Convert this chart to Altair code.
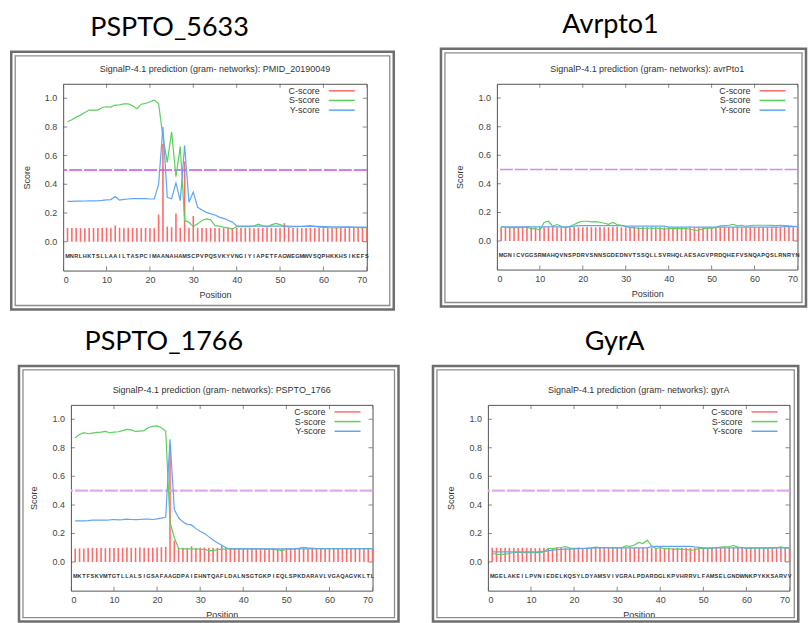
import altair as alt
import pandas as pd

positions = list(range(1, 71))
series_names = ["C-score", "S-score", "Y-score"]
series_colors = ["#ff6b6b", "#5ccf5c", "#5ea6f4"]
x_tick_values = [0, 10, 20, 30, 40, 50, 60, 70]
y_tick_values = [0.0, 0.2, 0.4, 0.6, 0.8, 1.0]
cutoff = 0.5
sequence_row = -0.1

panel_titles = ["PSPTO_5633", "Avrpto1", "PSPTO_1766", "GyrA"]
signalp_names = ["PMID_20190049", "avrPto1", "PSPTO_1766", "gyrA"]

seq_1 = "MNRLHKTSLLAAILTASPCIMAANAHAMSCPVPQSVKYVNGIYIAPETFAGWEGMWVSQPHKKHSIKEFS"
seq_2 = "MGNICVGGSRMAHQVNSPDRVSNNSGDEDNVTSSQLLSVRHQLAESAGVPRDQHEFVSNQAPQSLRNRYN"
seq_3 = "MKTFSKVMTGTLLALSIGSAFAAGDPAIEHNTQAFLDALNSGTGKPIEQLSPKDARAVLVGAQAGVKLTL"
seq_4 = "MGELAKEILPVNIEDELKQSYLDYAMSVIVGRALPDARDGLKPVHRRVLFAMSELGNDWNKPYKKSARVV"

# ---- PSPTO_5633 ----
c_1 = [0.097, 0.097, 0.097, 0.095, 0.095, 0.097, 0.097, 0.097, 0.098, 0.100,
       0.097, 0.113, 0.097, 0.095, 0.097, 0.097, 0.097, 0.095, 0.097, 0.095,
       0.095, 0.190, 0.680, 0.105, 0.102, 0.197, 0.098, 0.560, 0.098, 0.180,
       0.097, 0.097, 0.095, 0.097, 0.097, 0.097, 0.095, 0.097, 0.097, 0.097,
       0.097, 0.097, 0.097, 0.095, 0.097, 0.097, 0.097, 0.097, 0.095, 0.097,
       0.130, 0.097, 0.097, 0.097, 0.095, 0.097, 0.097, 0.097, 0.097, 0.095,
       0.097, 0.097, 0.097, 0.097, 0.095, 0.097, 0.097, 0.097, 0.097, 0.097]
s_1 = [0.836, 0.850, 0.868, 0.882, 0.900, 0.917, 0.917, 0.917, 0.935, 0.940,
       0.938, 0.952, 0.953, 0.960, 0.960, 0.947, 0.926, 0.958, 0.963, 0.975,
       0.986, 0.963, 0.730, 0.553, 0.766, 0.454, 0.664, 0.148, 0.137, 0.106,
       0.125, 0.148, 0.160, 0.153, 0.113, 0.109, 0.102, 0.097, 0.088, 0.106,
       0.106, 0.106, 0.106, 0.110, 0.123, 0.112, 0.103, 0.118, 0.128, 0.120,
       0.110, 0.102, 0.106, 0.106, 0.107, 0.109, 0.112, 0.108, 0.102, 0.100,
       0.098, 0.098, 0.097, 0.098, 0.100, 0.100, 0.100, 0.099, 0.099, 0.099]
y_1 = [0.282, 0.282, 0.283, 0.283, 0.284, 0.285, 0.285, 0.286, 0.288, 0.292,
       0.294, 0.315, 0.290, 0.296, 0.298, 0.300, 0.300, 0.300, 0.300, 0.298,
       0.298, 0.400, 0.800, 0.310, 0.300, 0.410, 0.287, 0.670, 0.275, 0.347,
       0.240, 0.222, 0.205, 0.195, 0.187, 0.172, 0.163, 0.150, 0.137, 0.111,
       0.109, 0.109, 0.109, 0.109, 0.109, 0.109, 0.109, 0.109, 0.109, 0.109,
       0.109, 0.109, 0.108, 0.108, 0.108, 0.108, 0.107, 0.107, 0.107, 0.106,
       0.106, 0.105, 0.105, 0.104, 0.104, 0.104, 0.103, 0.103, 0.103, 0.103]

# ---- Avrpto1 ----
c_2 = [0.098, 0.097, 0.096, 0.096, 0.097, 0.096, 0.097, 0.096, 0.096, 0.097,
       0.096, 0.097, 0.096, 0.096, 0.097, 0.096, 0.096, 0.097, 0.096, 0.096,
       0.097, 0.096, 0.096, 0.097, 0.096, 0.096, 0.097, 0.100, 0.096, 0.096,
       0.097, 0.096, 0.096, 0.097, 0.096, 0.096, 0.097, 0.096, 0.096, 0.097,
       0.096, 0.097, 0.096, 0.096, 0.097, 0.096, 0.096, 0.097, 0.096, 0.096,
       0.097, 0.096, 0.096, 0.097, 0.096, 0.096, 0.097, 0.096, 0.096, 0.097,
       0.096, 0.097, 0.096, 0.096, 0.097, 0.096, 0.096, 0.097, 0.096, 0.096]
s_2 = [0.103, 0.096, 0.094, 0.094, 0.094, 0.095, 0.100, 0.085, 0.087, 0.075,
       0.130, 0.138, 0.103, 0.115, 0.103, 0.092, 0.103, 0.115, 0.130, 0.138,
       0.138, 0.134, 0.135, 0.131, 0.124, 0.117, 0.130, 0.115, 0.110, 0.100,
       0.094, 0.094, 0.087, 0.089, 0.089, 0.090, 0.089, 0.088, 0.082, 0.087,
       0.087, 0.086, 0.087, 0.086, 0.082, 0.075, 0.076, 0.085, 0.092, 0.088,
       0.096, 0.106, 0.108, 0.110, 0.117, 0.106, 0.110, 0.103, 0.108, 0.110,
       0.110, 0.110, 0.110, 0.109, 0.108, 0.110, 0.108, 0.106, 0.103, 0.103]
y_2 = [0.098, 0.098, 0.098, 0.098, 0.098, 0.098, 0.098, 0.098, 0.098, 0.098,
       0.098, 0.098, 0.098, 0.098, 0.098, 0.098, 0.100, 0.104, 0.108, 0.108,
       0.108, 0.108, 0.108, 0.108, 0.108, 0.108, 0.108, 0.108, 0.108, 0.104,
       0.104, 0.104, 0.104, 0.104, 0.104, 0.104, 0.104, 0.104, 0.104, 0.097,
       0.097, 0.097, 0.097, 0.097, 0.097, 0.097, 0.097, 0.097, 0.097, 0.097,
       0.097, 0.097, 0.097, 0.097, 0.097, 0.097, 0.097, 0.097, 0.097, 0.097,
       0.097, 0.097, 0.097, 0.097, 0.097, 0.097, 0.100, 0.100, 0.100, 0.100]

# ---- PSPTO_1766 ----
c_3 = [0.095, 0.096, 0.095, 0.098, 0.100, 0.098, 0.100, 0.098, 0.100, 0.098,
       0.100, 0.100, 0.102, 0.100, 0.100, 0.102, 0.100, 0.100, 0.100, 0.102,
       0.104, 0.107, 0.800, 0.150, 0.100, 0.100, 0.100, 0.110, 0.100, 0.100,
       0.102, 0.100, 0.100, 0.100, 0.115, 0.097, 0.097, 0.097, 0.095, 0.097,
       0.097, 0.097, 0.095, 0.097, 0.097, 0.097, 0.097, 0.095, 0.097, 0.097,
       0.097, 0.097, 0.097, 0.095, 0.097, 0.097, 0.097, 0.097, 0.097, 0.095,
       0.097, 0.097, 0.097, 0.097, 0.097, 0.095, 0.097, 0.097, 0.097, 0.097]
s_3 = [0.870, 0.893, 0.905, 0.898, 0.903, 0.908, 0.910, 0.915, 0.905, 0.910,
       0.912, 0.920, 0.928, 0.925, 0.914, 0.917, 0.920, 0.942, 0.950, 0.953,
       0.940, 0.917, 0.280, 0.170, 0.095, 0.093, 0.093, 0.093, 0.090, 0.090,
       0.088, 0.080, 0.080, 0.088, 0.090, 0.093, 0.093, 0.093, 0.093, 0.093,
       0.093, 0.093, 0.093, 0.093, 0.090, 0.088, 0.088, 0.085, 0.080, 0.088,
       0.090, 0.092, 0.098, 0.103, 0.100, 0.098, 0.095, 0.095, 0.095, 0.095,
       0.095, 0.095, 0.095, 0.095, 0.095, 0.095, 0.095, 0.095, 0.095, 0.095]
y_3 = [0.288, 0.288, 0.289, 0.290, 0.293, 0.293, 0.294, 0.293, 0.295, 0.298,
       0.295, 0.297, 0.300, 0.298, 0.297, 0.298, 0.300, 0.300, 0.298, 0.302,
       0.308, 0.315, 0.860, 0.367, 0.310, 0.280, 0.264, 0.260, 0.234, 0.215,
       0.200, 0.178, 0.155, 0.135, 0.118, 0.100, 0.090, 0.092, 0.092, 0.092,
       0.092, 0.092, 0.093, 0.093, 0.092, 0.092, 0.092, 0.092, 0.092, 0.092,
       0.092, 0.092, 0.093, 0.093, 0.093, 0.092, 0.092, 0.092, 0.092, 0.092,
       0.092, 0.092, 0.092, 0.093, 0.093, 0.093, 0.092, 0.092, 0.092, 0.092]

# ---- GyrA ----
c_4 = [0.100, 0.100, 0.098, 0.100, 0.100, 0.100, 0.098, 0.100, 0.100, 0.100,
       0.098, 0.100, 0.100, 0.100, 0.098, 0.100, 0.100, 0.100, 0.098, 0.100,
       0.100, 0.100, 0.098, 0.100, 0.100, 0.100, 0.098, 0.100, 0.100, 0.100,
       0.098, 0.100, 0.100, 0.100, 0.098, 0.100, 0.100, 0.100, 0.098, 0.100,
       0.100, 0.100, 0.098, 0.100, 0.100, 0.100, 0.098, 0.100, 0.100, 0.100,
       0.098, 0.100, 0.100, 0.100, 0.098, 0.100, 0.100, 0.100, 0.098, 0.100,
       0.100, 0.100, 0.098, 0.100, 0.100, 0.100, 0.098, 0.100, 0.100, 0.100]
s_4 = [0.060, 0.056, 0.053, 0.055, 0.060, 0.067, 0.067, 0.067, 0.065, 0.067,
       0.066, 0.066, 0.072, 0.095, 0.095, 0.100, 0.102, 0.109, 0.098, 0.095,
       0.098, 0.095, 0.098, 0.100, 0.105, 0.102, 0.102, 0.102, 0.100, 0.102,
       0.100, 0.114, 0.110, 0.119, 0.137, 0.130, 0.153, 0.112, 0.095, 0.102,
       0.093, 0.095, 0.088, 0.093, 0.090, 0.088, 0.084, 0.086, 0.095, 0.095,
       0.095, 0.096, 0.102, 0.104, 0.107, 0.109, 0.116, 0.105, 0.102, 0.095,
       0.098, 0.098, 0.097, 0.098, 0.098, 0.100, 0.100, 0.107, 0.100, 0.100]
y_4 = [0.072, 0.072, 0.072, 0.072, 0.072, 0.072, 0.072, 0.072, 0.072, 0.072,
       0.072, 0.072, 0.075, 0.079, 0.083, 0.087, 0.089, 0.090, 0.091, 0.093,
       0.094, 0.095, 0.096, 0.098, 0.100, 0.100, 0.100, 0.100, 0.100, 0.100,
       0.100, 0.100, 0.100, 0.100, 0.100, 0.100, 0.100, 0.108, 0.110, 0.110,
       0.110, 0.110, 0.110, 0.110, 0.110, 0.110, 0.110, 0.106, 0.103, 0.100,
       0.100, 0.100, 0.100, 0.100, 0.100, 0.100, 0.100, 0.100, 0.100, 0.100,
       0.100, 0.100, 0.100, 0.100, 0.100, 0.100, 0.100, 0.100, 0.100, 0.100]

FONT = "Liberation Sans"
x_scale = alt.Scale(domain=[0, 70], nice=False, zero=False)
y_scale = alt.Scale(domain=[-0.2, 1.1], nice=False, zero=False)
color_scale = alt.Scale(domain=series_names, range=series_colors)
x_axis = alt.Axis(values=x_tick_values, title="Position", format="d", grid=False,
                  ticks=False, domain=False, labelPadding=5, titlePadding=6,
                  labelOverlap=False)
# y tick labels are drawn by a text layer below (so that none gets dropped)
y_axis = alt.Axis(values=y_tick_values, title="Score", grid=False, labels=False,
                  ticks=False, domain=False, titlePadding=32)


def panel(idx, seq, c_vals, s_vals, y_vals, W, H, frame, dash_color, dash_width, title_dx, title_offset):
    df_c = pd.DataFrame({"Position": positions, "Score": c_vals, "series": "C-score"})
    df_l = pd.concat([
        pd.DataFrame({"Position": positions, "Score": s_vals, "series": "S-score"}),
        pd.DataFrame({"Position": positions, "Score": y_vals, "series": "Y-score"}),
    ])
    df_seq = pd.DataFrame({"Position": positions, "letter": list(seq)})
    df_xt = pd.DataFrame({"v": x_tick_values})
    df_yt = pd.DataFrame({"v": y_tick_values})
    one = pd.DataFrame({"k": [0]})

    X = alt.X("Position:Q", scale=x_scale, axis=x_axis)
    Y = alt.Y("Score:Q", scale=y_scale, axis=y_axis)
    YV = alt.Y("v:Q", scale=y_scale, axis=y_axis)
    XV = alt.X("v:Q", scale=x_scale, axis=x_axis)
    col = alt.Color("series:N", scale=color_scale, legend=None)

    fl, fr, ft, fb = frame
    outer = alt.Chart(one).mark_rect(filled=False, color="#6e6e6e", strokeWidth=2.5).encode(
        x=alt.value(fl), x2=alt.value(fr), y=alt.value(ft), y2=alt.value(fb))
    inner = alt.Chart(one).mark_rect(filled=False, color="#8c8c8c", strokeWidth=1.3).encode(
        x=alt.value(fl + 4), x2=alt.value(fr - 4), y=alt.value(ft + 4), y2=alt.value(fb - 4))

    tick_style = dict(color="#555", thickness=1, size=8, clip=True)
    t_left = alt.Chart(df_yt).mark_tick(orient="horizontal", **tick_style).encode(
        y=YV, x=alt.value(0))
    t_right = alt.Chart(df_yt).mark_tick(orient="horizontal", **tick_style).encode(
        y=YV, x=alt.value(W))
    t_bottom = alt.Chart(df_xt).mark_tick(orient="vertical", **tick_style).encode(
        x=XV, y=alt.value(H))
    t_top = alt.Chart(df_xt).mark_tick(orient="vertical", **tick_style).encode(
        x=XV, y=alt.value(0))
    y_labels = alt.Chart(df_yt).mark_text(font=FONT, fontSize=9, color="#444",
                                          align="right", baseline="middle").encode(
        y=YV, x=alt.value(-6), text=alt.Text("v:Q", format=".1f"))

    cut = alt.Chart(one).mark_rule(color=dash_color, strokeWidth=dash_width,
                                   strokeDash=[13, 2]).encode(
        y=alt.YDatum(cutoff, scale=y_scale, axis=y_axis))
    bars = alt.Chart(df_c).mark_rule(strokeWidth=1.6).encode(
        x=X, y=Y, y2=alt.datum(0), color=col)
    lines = alt.Chart(df_l).mark_line(strokeWidth=1.2).encode(
        x=X, y=Y, color=col, detail="series:N")
    letters = alt.Chart(df_seq).mark_text(font=FONT, fontSize=5.6, fontWeight="bold",
                                          color="#333").encode(
        x=X, y=alt.YDatum(sequence_row, scale=y_scale, axis=y_axis), text="letter:N")
    sig = alt.Chart(one).mark_text(font=FONT, fontSize=9, color="#333", baseline="alphabetic").encode(
        x=alt.value(W / 2), y=alt.value(-12),
        text=alt.value("SignalP-4.1 prediction (gram- networks): " + signalp_names[idx]))

    # legend (label left of a short line sample, gnuplot style)
    legend_layers = []
    for i, (name, colr) in enumerate(zip(series_names, series_colors)):
        ly = 7 + 9.7 * i
        legend_layers.append(alt.Chart(one).mark_text(
            font=FONT, fontSize=9, color="#333", align="right", baseline="middle").encode(
            x=alt.value(W - 47), y=alt.value(ly), text=alt.value(name)))
        legend_layers.append(alt.Chart(one).mark_rule(color=colr, strokeWidth=1.5).encode(
            x=alt.value(W - 38), x2=alt.value(W - 12), y=alt.value(ly)))

    return alt.layer(bars, outer, inner, cut, lines, letters, sig, y_labels,
                     t_left, t_right, t_bottom, t_top, *legend_layers).properties(
        width=W, height=H,
        title=alt.TitleParams(text=panel_titles[idx], font="Lato", fontSize=27,
                              fontWeight="normal", color="#000", anchor="middle",
                              frame="bounds", dx=title_dx, offset=title_offset))


p1 = panel(0, seq_1, c_1, s_1, y_1, 304, 187, (-52, 331, -32, 226), "#c650f0", 1.3, -33, 8.5)
p2 = panel(1, seq_2, c_2, s_2, y_2, 301, 186, (-56, 309.5, -35, 223), "#d48af0", 1.3, -13, 8.5)
p3 = panel(2, seq_3, c_3, s_3, y_3, 302, 186, (-52, 328, -39, 217), "#e2a6f5", 2.4, -45, 9)
p4 = panel(3, seq_4, c_4, s_4, y_4, 302, 186, (-55, 310.75, -39, 217), "#e2a6f5", 2.4, -1, 9)

row1 = alt.hconcat(p1, p2, spacing=43.25)
row2 = alt.hconcat(p3, p4, spacing=30.5)

chart = alt.vconcat(row1, row2, spacing=15.5, center=True).properties(
    padding={"left": 9, "top": 9.5, "right": 0, "bottom": 0},
    background="white",
).configure_view(stroke="#555", strokeWidth=1).configure_axis(
    labelFont=FONT, labelFontSize=9, labelColor="#444",
    titleFont=FONT, titleFontSize=9, titleFontWeight="normal", titleColor="#333")

chart.save("out.html", embed_options={"renderer": "svg", "actions": False})
